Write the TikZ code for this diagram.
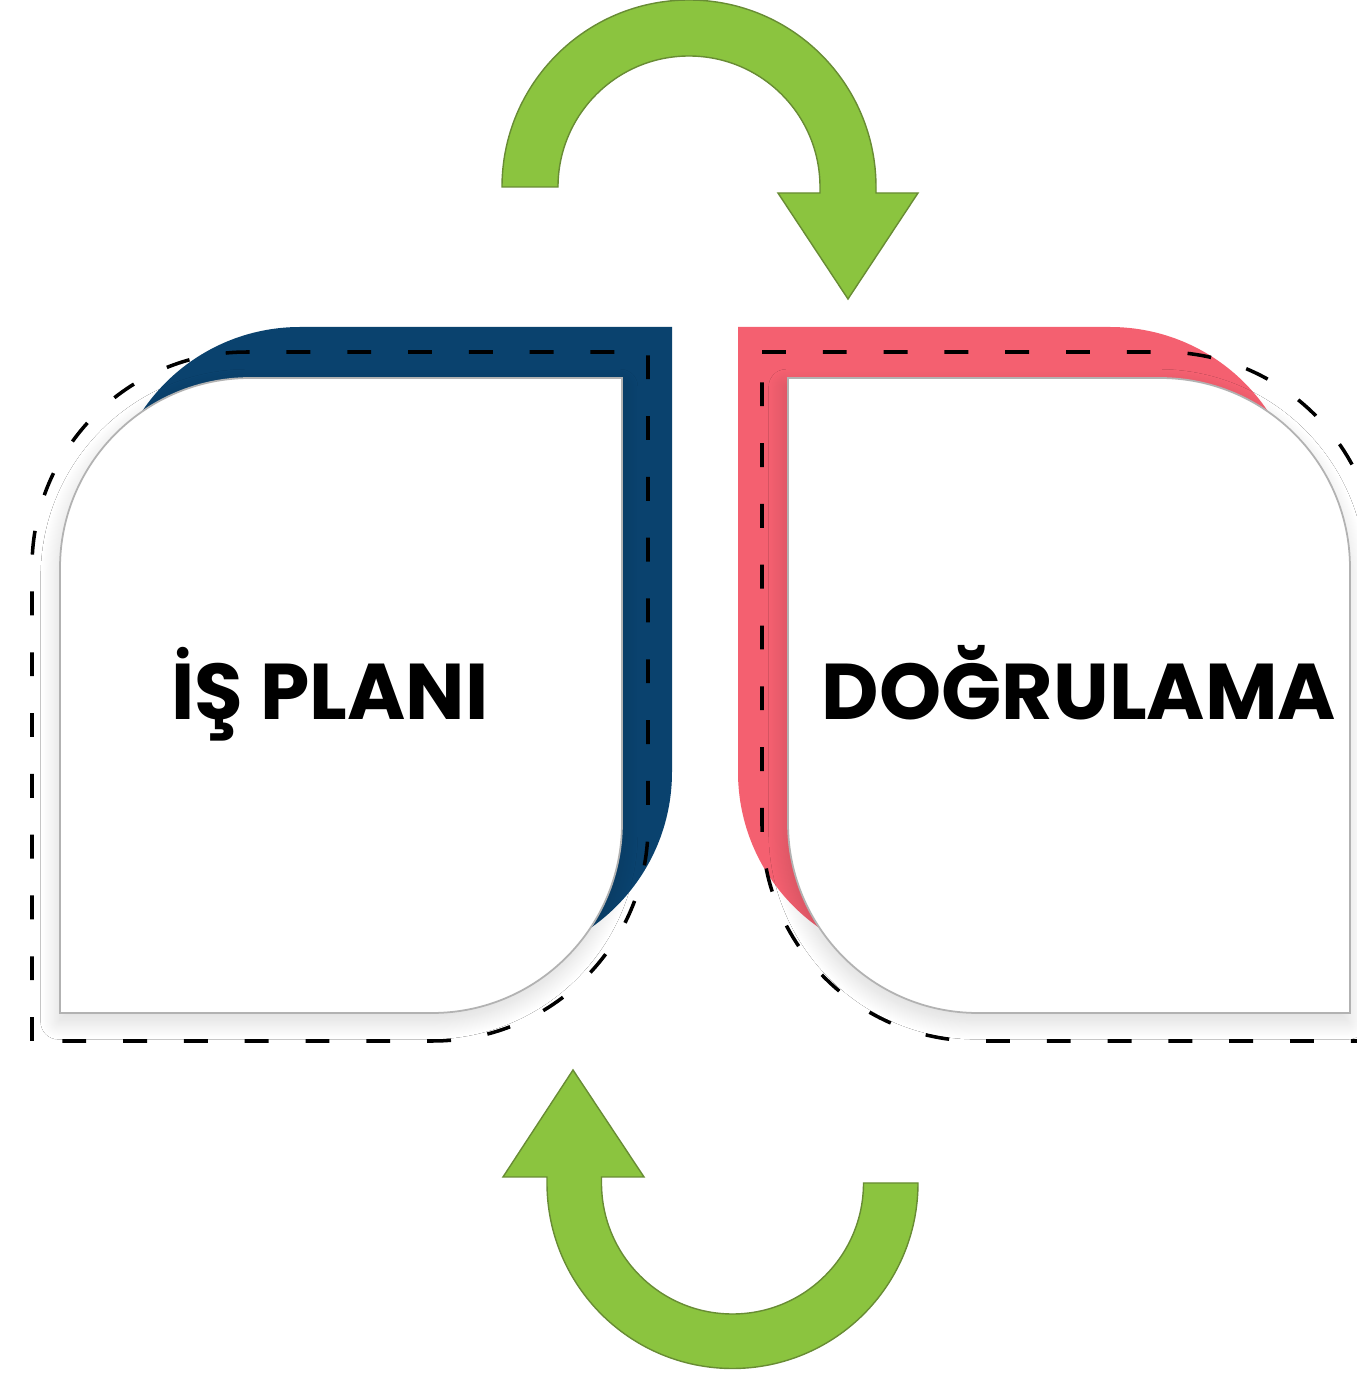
\documentclass[tikz,border=0pt]{standalone}
\usepackage{fontspec}
\setmainfont{Poppins}
\usepackage{tikz}
\usetikzlibrary{positioning, shadows.blur}
\definecolor{planblue}{RGB}{10,66,110}
\definecolor{checkpink}{RGB}{244,96,112}
\definecolor{cyclegreen}{RGB}{139,196,63}
\definecolor{cycleedge}{RGB}{104,140,52}

\begin{document}
\begin{tikzpicture}[
                card/.style={fill=white, draw=black!30, line width=0.5pt,
                  blur shadow={shadow xshift=-0.5pt, shadow yshift=-2.5pt, shadow blur radius=5pt, shadow blur steps=20, shadow opacity=15}},
                band/.style={draw=none},
                guide/.style={draw=black, line width=1pt, dash pattern=on 6.8pt off 10.5pt},
                turn/.style={fill=cyclegreen, draw=cycleedge, line width=0.4pt},
                title/.style={anchor=base, font=\bfseries\fontsize{22.5}{26}\selectfont, inner sep=0pt}
            ]
                \clip (0,0) rectangle (13.57,13.73);
                \fill[white] (0,0) rectangle (13.57,13.73);

                \fill[band, planblue] (1.10,4.11) -- (1.10,8.56) arc[start angle=180, end angle=90, radius=1.9]
                    -- (6.72,10.46) -- (6.72,6.01) arc[start angle=0, end angle=-90, radius=1.9] -- cycle;
                \fill[band, checkpink] (7.38,10.46) -- (11.10,10.46) arc[start angle=90, end angle=0, radius=1.9]
                    -- (13.00,4.11) -- (9.28,4.11) arc[start angle=270, end angle=180, radius=1.9] -- cycle;

                \path[card] (0.60,3.60) -- (0.60,8.05) arc[start angle=180, end angle=90, radius=1.9]
                    -- (6.22,9.95) -- (6.22,5.50) arc[start angle=0, end angle=-90, radius=1.9] -- cycle;
                \path[card] (7.88,9.95) -- (11.60,9.95) arc[start angle=90, end angle=0, radius=1.9]
                    -- (13.50,3.60) -- (9.78,3.60) arc[start angle=270, end angle=180, radius=1.9] -- cycle;

                \draw[guide] (0.32,3.32) -- (0.32,8.06) arc[start angle=180, end angle=90, radius=2.15]
                    -- (6.48,10.21) -- (6.48,5.47) arc[start angle=0, end angle=-90, radius=2.15] -- cycle;
                \draw[guide] (7.62,10.21) -- (11.63,10.21) arc[start angle=90, end angle=0, radius=2.15]
                    -- (13.78,3.32) -- (9.77,3.32) arc[start angle=270, end angle=180, radius=2.15] -- cycle;

                \node[title] (plan) at (3.30,6.53) {İŞ PLANI};
                \node[title] (check) at (10.79,6.53) {DOĞRULAMA};

                \path[turn] (5.02,11.86) arc[start angle=180, end angle=0, radius=1.87]
                    -- (8.76,11.80) -- (9.18,11.80) -- (8.48,10.74) -- (7.78,11.80) -- (8.20,11.80)
                    -- (8.20,11.86) arc[start angle=0, end angle=180, radius=1.31] -- cycle;
                \path[turn] (9.18,1.90) arc[start angle=0, end angle=-180, radius=1.855]
                    -- (5.47,1.96) -- (5.03,1.96) -- (5.73,3.03) -- (6.44,1.96) -- (6.015,1.96)
                    -- (6.015,1.90) arc[start angle=180, end angle=360, radius=1.31] -- cycle;
            \end{tikzpicture}
\end{document}
